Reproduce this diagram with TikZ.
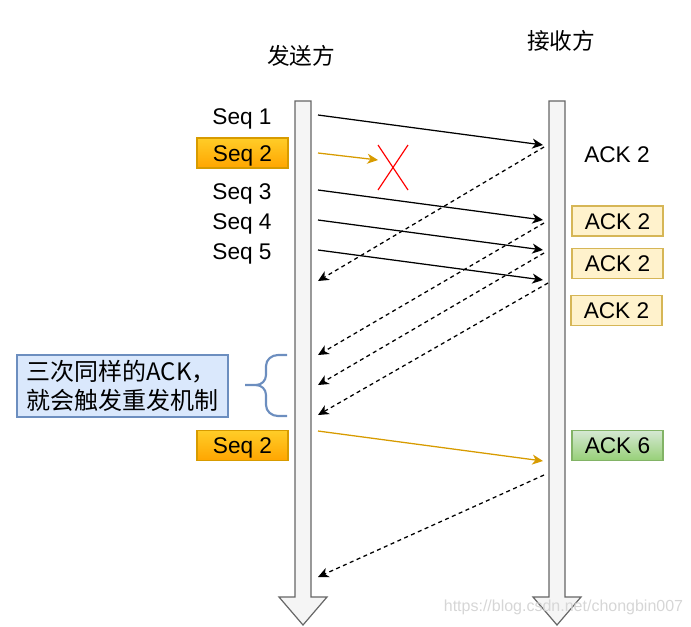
\documentclass[tikz,border=0pt]{standalone}
\usepackage{fontspec}
\setmainfont{Liberation Sans}
\newfontfamily\cjk{Noto Sans CJK SC}
\usetikzlibrary{arrows.meta}
\definecolor{shaftfill}{HTML}{F5F5F5}
\definecolor{shaftline}{HTML}{666666}
\definecolor{orangetop}{HTML}{FFCD28}
\definecolor{orangebot}{HTML}{FFA500}
\definecolor{orangeline}{HTML}{D79B00}
\definecolor{ackfill}{HTML}{FFF2CC}
\definecolor{ackline}{HTML}{D6B656}
\definecolor{greentop}{HTML}{D5E8D4}
\definecolor{greenbot}{HTML}{97D077}
\definecolor{greenline}{HTML}{82B366}
\definecolor{bluefill}{HTML}{DAE8FC}
\definecolor{blueline}{HTML}{6C8EBF}
\definecolor{wmark}{HTML}{D6D6D6}
\begin{document}
\begin{tikzpicture}[x=0.75pt,y=-0.75pt,
  lbl/.style={inner sep=0pt,font=\fontsize{17}{20}\selectfont,text height=12.2pt,text depth=0pt},
  cjklbl/.style={inner sep=0pt,font=\cjk\fontsize{17}{20}\selectfont},
  boxbase/.style={lbl,minimum width=68.25pt,minimum height=22.5pt,line width=0.8pt},
  orbox/.style={boxbase,draw=orangeline,top color=orangetop,bottom color=orangebot},
  ackbox/.style={boxbase,draw=ackline,fill=ackfill},
  greenbox/.style={boxbase,draw=greenline,top color=greentop,bottom color=greenbot},
  shaft/.style={draw=shaftline,fill=shaftfill,line width=0.9pt},
  msg/.style={-{Stealth[length=8pt,width=7.5pt,inset=2.4pt]},line width=0.95pt},
  ackmsg/.style={msg,dash pattern=on 3pt off 2.6pt},
  lostmsg/.style={line width=0.95pt,draw=orangeline,-{Stealth[length=8pt,width=7.5pt,inset=2.4pt,fill=orangeline]}},
  crossline/.style={draw=red,line width=0.9pt},
  brace/.style={draw=blueline,line width=1.6pt}
]
\useasboundingbox (0,0) rectangle (691,626);

% lifelines
\draw[shaft] (295,101) -- (311,101) -- (311,597) -- (327,597) -- (303,625) -- (279,597) -- (295,597) -- cycle;
\draw[shaft] (549,101) -- (565,101) -- (565,597) -- (581,597) -- (557,625) -- (533,597) -- (549,597) -- cycle;

% titles
\node[cjklbl] (sender) at (301,56) {发送方};
\node[cjklbl] (receiver) at (561,41) {接收方};

% sender labels
\node[lbl] (seq1) at (242,116) {Seq 1};
\node[orbox] (seq2) at (242.5,153) {Seq 2};
\node[lbl] (seq3) at (242,191) {Seq 3};
\node[lbl] (seq4) at (242,221) {Seq 4};
\node[lbl] (seq5) at (242,251) {Seq 5};
\node[orbox] (seq2b) at (242.5,445.5) {Seq 2};

% receiver labels
\node[lbl] (ack1) at (617,154) {ACK 2};
\node[ackbox] (ack2) at (617.5,221) {ACK 2};
\node[ackbox] (ack3) at (617.5,263.5) {ACK 2};
\node[ackbox] (ack4) at (616.5,310.5) {ACK 2};
\node[greenbox] (ack6) at (617.5,445.5) {ACK 6};

% note
\node[draw=blueline,fill=bluefill,line width=0.8pt,minimum width=158.25pt,minimum height=46.5pt,
      inner sep=0pt,align=left,font=\cjk\fontsize{18}{21.75}\selectfont] (note) at (122.5,386)
      {三次同样的ACK，\\就会触发重发机制};
\draw[brace] (287,355) -- (278,355) to[out=180,in=90] (266,366) -- (266,375)
  to[out=-90,in=0] (256,385) -- (245,385);
\draw[brace] (256,385) to[out=0,in=90] (266,395) -- (266,405)
  to[out=-90,in=180] (278,416) -- (287,416);

% endpoints
\coordinate (p1s) at (318,115); \coordinate (p1e) at (543,145);
\coordinate (p2s) at (318,153); \coordinate (p2e) at (378,160);
\coordinate (p3s) at (318,190); \coordinate (p3e) at (543,220);
\coordinate (p4s) at (318,220); \coordinate (p4e) at (543,250);
\coordinate (p5s) at (318,250); \coordinate (p5e) at (543,280);
\coordinate (p6s) at (318,431); \coordinate (p6e) at (543,461);
\coordinate (a1s) at (544,147); \coordinate (a1e) at (318,281);
\coordinate (a2s) at (544,223); \coordinate (a2e) at (318,355);
\coordinate (a3s) at (544,253); \coordinate (a3e) at (318,385);
\coordinate (a4s) at (548,283); \coordinate (a4e) at (318,415);
\coordinate (a5s) at (544,475); \coordinate (a5e) at (318,577);
\coordinate (x1) at (378,145); \coordinate (x2) at (408,190);
\coordinate (x3) at (408,145); \coordinate (x4) at (378,190);

% messages
\draw[msg] (p1s) -- (p1e);
\draw[lostmsg] (p2s) -- (p2e);
\draw[msg] (p3s) -- (p3e);
\draw[msg] (p4s) -- (p4e);
\draw[msg] (p5s) -- (p5e);
\draw[lostmsg] (p6s) -- (p6e);
\draw[ackmsg] (a1s) -- (a1e);
\draw[ackmsg] (a2s) -- (a2e);
\draw[ackmsg] (a3s) -- (a3e);
\draw[ackmsg] (a4s) -- (a4e);
\draw[ackmsg] (a5s) -- (a5e);
\draw[crossline] (x1) -- (x2);
\draw[crossline] (x3) -- (x4);

% watermark
\node[inner sep=0pt,text=wmark,font=\fontsize{12}{14}\selectfont] (wm) at (563.5,607) {https://blog.csdn.net/chongbin007};
\end{tikzpicture}
\end{document}
